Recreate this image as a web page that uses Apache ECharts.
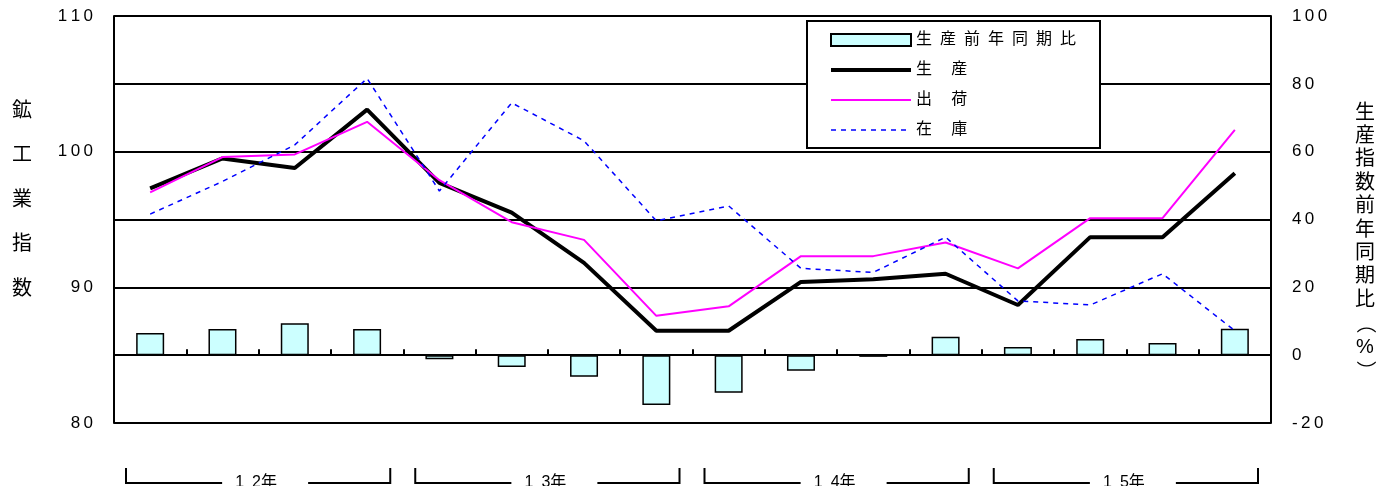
<!DOCTYPE html>
<html>
<head>
<meta charset="utf-8">
<script src="https://cdn.jsdelivr.net/npm/echarts@6/dist/echarts.min.js"></script>
<style>
html,body{margin:0;padding:0;background:#fff;}
#c{width:1392px;height:486px;}
</style>
</head>
<body>
<div id="c"></div>
<script>
// ---- data ----
const categories = ['12年Ⅰ','12年Ⅱ','12年Ⅲ','12年Ⅳ','13年Ⅰ','13年Ⅱ','13年Ⅲ','13年Ⅳ',
                    '14年Ⅰ','14年Ⅱ','14年Ⅲ','14年Ⅳ','15年Ⅰ','15年Ⅱ','15年Ⅲ','15年Ⅳ'];
const years = ['12年','13年','14年','15年'];
const yoy        = [6.5, 7.7, 9.4, 7.7, -1.2, -3.5, -6.4, -14.7, -11.1, -4.6, -0.5, 5.4, 2.4, 4.8, 3.6, 7.8];
const production = [97.3, 99.5, 98.8, 103.1, 97.7, 95.5, 91.8, 86.8, 86.8, 90.4, 90.6, 91.0, 88.7, 93.7, 93.7, 98.4];
const shipments  = [97.0, 99.6, 99.8, 102.2, 97.9, 94.8, 93.5, 87.9, 88.6, 92.3, 92.3, 93.3, 91.4, 95.1, 95.1, 101.6];
const inventory  = [95.4, 97.8, 100.5, 105.4, 97.1, 103.6, 100.8, 94.9, 96.0, 91.4, 91.1, 93.7, 89.0, 88.7, 91.0, 86.8];
const seriesNames = ['生産前年同期比','生産','出荷','在庫'];
const leftTitle = '鉱工業指数';
const rightTitle = '生産指数前年同期比（%）';

const FONT = '"Liberation Sans", "Noto Sans CJK JP", sans-serif';
const spaced = (s, sep) => String(s).split('').join(sep);

const chart = echarts.init(document.getElementById('c'), null, {renderer: 'canvas'});

const hideSym = {opacity: 0, borderWidth: 0};
const option = {
  animation: false,
  backgroundColor: '#fff',
  textStyle: {fontFamily: FONT},
  grid: {left: 114, right: 121, top: 16, bottom: 63},
  legend: {
    orient: 'vertical',
    left: 807, top: 21,
    data: [
      {name: seriesNames[0], icon: 'rect'},
      {name: seriesNames[1], itemStyle: hideSym, lineStyle: {width: 4, color: '#000'}},
      {name: seriesNames[2], itemStyle: hideSym, lineStyle: {width: 2, color: '#ff00ff'}},
      {name: seriesNames[3], itemStyle: hideSym, lineStyle: {width: 1.5, color: '#0000ff', type: [5, 5]}}
    ],
    itemWidth: 80, itemHeight: 12, itemGap: 14,
    padding: [11, 24, 10, 22],
    borderColor: '#000', borderWidth: 2,
    backgroundColor: '#fff',
    textStyle: {fontSize: 16, color: '#000', fontFamily: FONT},
    formatter: function (n) {
      return n.length > 2 ? spaced(n, '\u2002') : spaced(n, '\u3000\u2009');
    }
  },
  xAxis: {
    type: 'category',
    data: categories,
    boundaryGap: true,
    axisLine: {lineStyle: {color: '#000', width: 2}},
    axisTick: {show: true, inside: true, length: 6, lineStyle: {color: '#000', width: 2}},
    axisLabel: {show: false},
    splitLine: {show: false}
  },
  yAxis: [
    {
      type: 'value', min: 80, max: 110, interval: 5,
      axisLine: {show: true, lineStyle: {color: '#000', width: 2}},
      axisTick: {show: false},
      axisLabel: {
        margin: 21, fontSize: 17, color: '#000', fontFamily: FONT,
        formatter: v => (v % 10 === 0 ? spaced(v, '\u2009') : '')
      },
      splitLine: {show: true, lineStyle: {color: '#000', width: 2}}
    },
    {
      type: 'value', min: -20, max: 100, interval: 20,
      axisLine: {show: true, lineStyle: {color: '#000', width: 2}},
      axisTick: {show: false},
      axisLabel: {
        margin: 21, fontSize: 17, color: '#000', fontFamily: FONT,
        formatter: v => spaced(v, '\u2009')
      },
      splitLine: {show: false}
    }
  ],
  series: [
    {
      name: seriesNames[0], type: 'bar', yAxisIndex: 1, data: yoy,
      barWidth: 28,
      itemStyle: {color: '#ccffff', borderColor: '#000', borderWidth: 1.5}
    },
    {
      name: seriesNames[1], type: 'line', yAxisIndex: 0, data: production,
      symbol: 'none', lineStyle: {color: '#000', width: 4}, itemStyle: {color: '#000'}
    },
    {
      name: seriesNames[2], type: 'line', yAxisIndex: 0, data: shipments,
      symbol: 'none', lineStyle: {color: '#ff00ff', width: 2}, itemStyle: {color: '#ff00ff'}
    },
    {
      name: seriesNames[3], type: 'line', yAxisIndex: 0, data: inventory,
      symbol: 'none', lineStyle: {color: '#0000ff', width: 1.5, type: [5, 5]}, itemStyle: {color: '#0000ff'}
    }
  ]
};
chart.setOption(option);

// ---- decorations: axis titles and year brackets ----
const g = [];
leftTitle.split('').forEach((ch, i) => {
  g.push({type: 'text', x: 22, y: 111 + i * 44.5,
    style: {text: ch, fontSize: 20, fill: '#000', fontFamily: FONT, align: 'center', verticalAlign: 'middle'}});
});
rightTitle.split('').forEach((ch, i) => {
  const isParen = (ch === '（' || ch === '）');
  g.push({type: 'text', x: 1365, y: 113 + i * 23.4, rotation: isParen ? -Math.PI / 2 : 0,
    style: {text: ch, fontSize: 20, fill: '#000', fontFamily: FONT, align: 'center', verticalAlign: 'middle'}});
});
const px = i => chart.convertToPixel({xAxisIndex: 0}, i);
const band = px(1) - px(0);
years.forEach((y, k) => {
  const left = px(4 * k) - band / 2 + 12;
  const right = px(4 * k + 3) + band / 2 - 13;
  const c = (left + right) / 2;
  const yTop = 468, yBot = 483;
  const ls = {stroke: '#000', lineWidth: 2};
  g.push({type: 'polyline', shape: {points: [[left, yTop], [left, yBot], [c - 36, yBot]]}, style: ls});
  g.push({type: 'polyline', shape: {points: [[c + 50, yBot], [right, yBot], [right, yTop]]}, style: ls});
  g.push({type: 'text', x: c - 2, y: 475,
    style: {text: spaced(y.slice(0, 2), '\u2002') + y.slice(2), fontSize: 16, fill: '#000', fontFamily: FONT, align: 'center', verticalAlign: 'top'}});
});
chart.setOption({graphic: g});
</script>
</body>
</html>
